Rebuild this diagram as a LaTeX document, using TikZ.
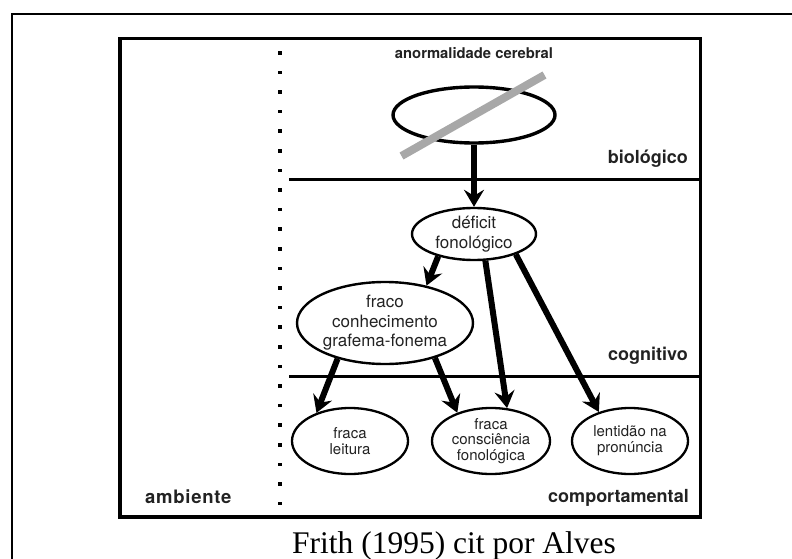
\documentclass[tikz,border=0pt]{standalone}
\usepackage{fontspec}
\setmainfont{Liberation Serif}
\setsansfont{TeX Gyre Heros}
\usetikzlibrary{arrows.meta,shapes.geometric}
\definecolor{barcol}{HTML}{A8A8A8}
\definecolor{inktext}{HTML}{222222}
\begin{document}
\begin{tikzpicture}[x=1pt,y=-1pt,
  lab/.style={font=\sffamily\bfseries\fontsize{18}{20}\selectfont, inner sep=0pt, text=inktext},
  bigell/.style={ellipse, draw, line width=2.4pt, inner sep=0pt, align=center,
    font=\sffamily\fontsize{17}{19.5}\selectfont, text=inktext},
  smallell/.style={ellipse, draw, line width=2.3pt, inner sep=0pt, align=center,
    font=\sffamily\fontsize{15}{15.8}\selectfont, text=inktext},
  arr/.style={line width=6pt, -{Stealth[length=17pt,width=20pt,inset=6pt]}},
  rule/.style={line width=3pt},
]
\useasboundingbox (0,0) rectangle (792,559);
% outer frame (cut by the page on right and bottom)
\draw[line width=2pt] (12,575) -- (12,14) -- (800,14);
% inner box
\draw[line width=3.5pt] (120,38.5) rectangle (700.5,517);
% level separators
\draw[rule] (289,179) -- (700,179);
\draw[rule] (289,376) -- (700,376);
% dotted separator
\foreach \i in {0,...,23}
  \fill (278.2,{51+19.6*\i}) rectangle ++(3.6,3.6);
% nodes
\node[ellipse, draw, line width=3.4pt, minimum width=162pt, minimum height=56pt, inner sep=0pt] (brain) at (474,115) {};
\draw[line width=8pt, barcol] (401.5,156) -- (544.5,75);
\node[bigell, minimum width=124pt, minimum height=52pt] (def) at (474,234) {déficit\\fonológico};
\node[bigell, minimum width=176pt, minimum height=82pt] (fraco) at (385,323) {fraco\\conhecimento\\grafema-fonema};
\node[smallell, minimum width=116pt, minimum height=66pt] (leit) at (350,441) {fraca\\leitura};
\node[smallell, minimum width=118pt, minimum height=66pt] (cons) at (491,441) {fraca\\consciência\\fonológica};
\node[smallell, minimum width=116pt, minimum height=66pt] (lent) at (630,441) {lentidão na\\pronúncia};
% connectors
\draw[arr] (brain.south) -- (def.north);
\draw[arr] (def.212) -- (fraco.42);
\draw[arr] (def.293) -- (cons.64);
\draw[arr] (def.334) -- (lent.137);
\draw[arr] (fraco.217) -- (leit.140);
\draw[arr] (fraco.325) -- (cons.140);
% labels
\node[font=\sffamily\bfseries\fontsize{14.8}{16}\selectfont, anchor=base, inner sep=0pt, text=inktext] (anorm) at (474,59) {anormalidade cerebral};
\node[lab, anchor=base east] (bio) at (688,163) {biológico};
\node[lab, anchor=base east] (cog) at (688,360) {cognitivo};
\node[lab, anchor=base east] (comp) at (689,502) {comportamental};
\node[lab, anchor=base west, font=\sffamily\bfseries\fontsize{18.5}{20}\selectfont] (amb) at (145,503) {\addfontfeature{LetterSpace=4}ambiente};
\node[font=\fontsize{31.5}{34}\selectfont, anchor=base, inner sep=0pt] (cap) at (454,553) {Frith (1995) cit por Alves};
\end{tikzpicture}
\end{document}
